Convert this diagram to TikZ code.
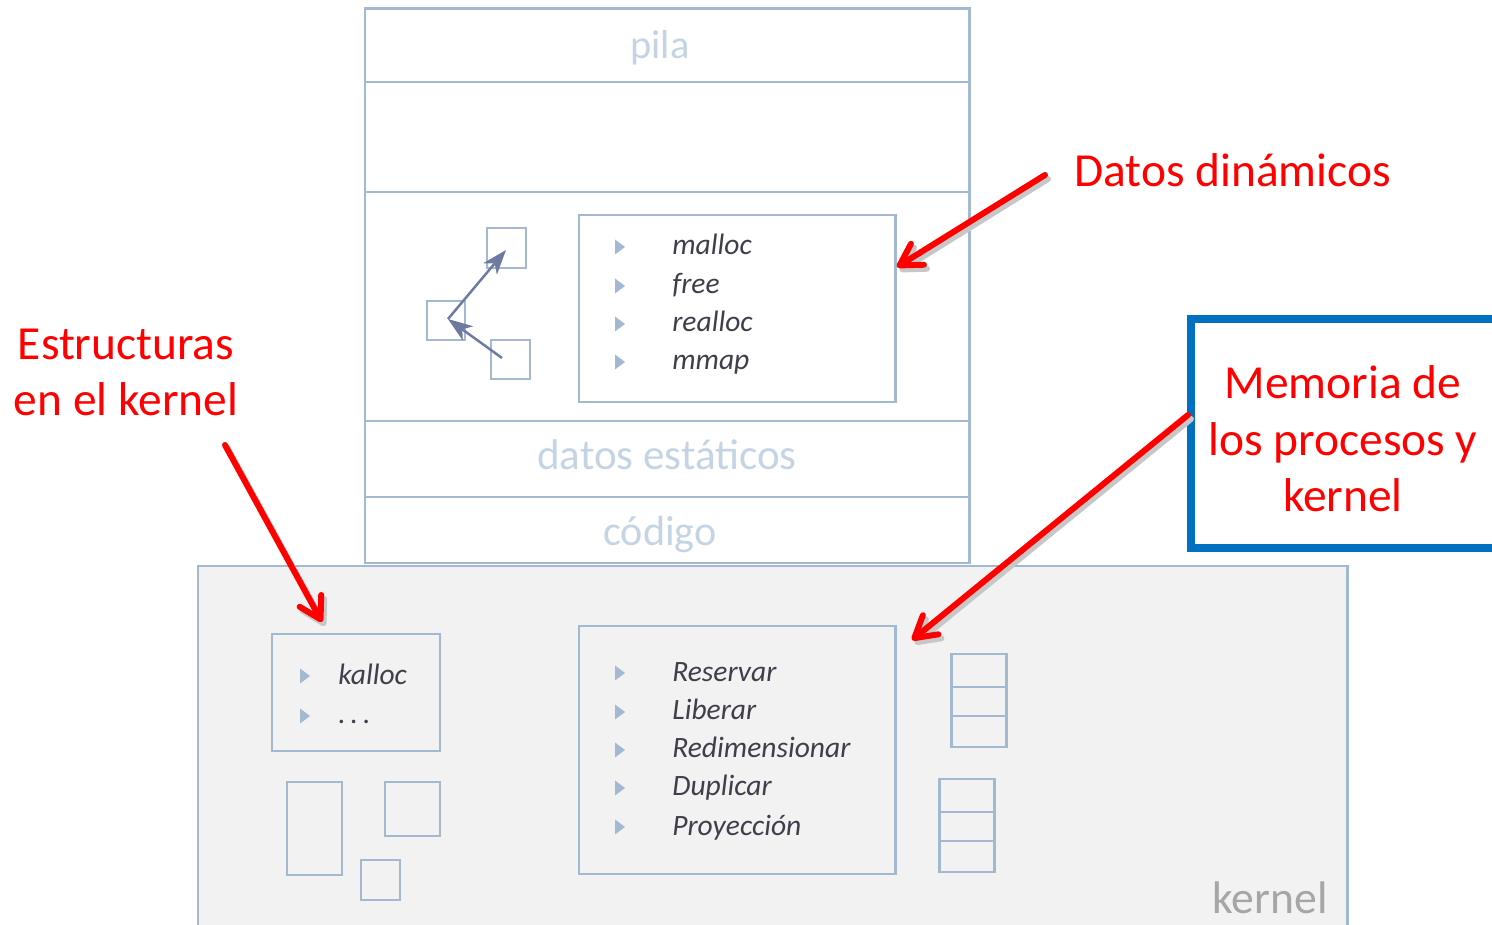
\documentclass[tikz,border=0pt]{standalone}
\usepackage{fontspec}
\setmainfont{Carlito}
\usetikzlibrary{arrows.meta,fit}
\definecolor{frame}{HTML}{A3B9D1}
\definecolor{ghost}{HTML}{C5D4E4}
\definecolor{ink}{HTML}{3F3F4C}
\definecolor{kfill}{HTML}{F2F2F2}
\definecolor{kgrey}{HTML}{A6A6A6}
\definecolor{ptr}{HTML}{6E7AA2}
\definecolor{msblue}{HTML}{0070C0}
\tikzset{
  box/.style={draw=frame, line width=1.7pt, inner sep=0pt},
  ghostlbl/.style={text=ghost, anchor=base, inner sep=0pt},
  item/.style={anchor=base west, text=ink, inner sep=0pt, font=\itshape\fontsize{16.8}{20}\selectfont},
  redlbl/.style={text=red, anchor=base, inner sep=0pt, font=\fontsize{27}{32}\selectfont},
  arrowbase/.style={line width=3.4pt, line cap=round, line join=round,
    -{Straight Barb[round, length=12pt, width=14pt]}},
  redarrow/.style={arrowbase, draw=red},
  shadowarrow/.style={arrowbase, draw=black!22},
  ptrarrow/.style={draw=ptr, line width=1.4pt, -{Stealth[length=14pt, width=10pt, inset=4pt]}},
}
\newcommand{\bul}[2]{\fill[frame] (#1-5,#2-7.5) -- (#1+5,#2) -- (#1-5,#2+7.5) -- cycle;}
\begin{document}
\begin{tikzpicture}[x=0.02cm, y=-0.02cm]
\useasboundingbox (0,0) rectangle (1492,925);
% kernel area
\node[box, fill=kfill, fit={(198,566) (1347,960)}] (kernel) {};
\node[anchor=base east, text=kgrey, inner sep=0pt, font=\fontsize{26}{30}\selectfont] (kernellbl) at (1328,913) {kernel};
% process stack
\node[box, fill=white, fit={(365,9) (969,563)}] (stack) {};
\draw[draw=frame, line width=1.7pt] (365,82) -- (969,82) (365,192) -- (969,192) (365,421) -- (969,421) (365,497) -- (969,497);
\node[ghostlbl, font=\fontsize{23}{28}\selectfont] (pila) at (660,59) {pila};
\node[ghostlbl, font=\fontsize{24.5}{30}\selectfont] (estaticos) at (667,470) {datos estáticos};
\node[ghostlbl, font=\fontsize{24}{28}\selectfont] (codigo) at (660,546) {código};
% heap pointers
\node[box, fit={(487,228) (526,268)}] (sA) {};
\node[box, fit={(427,301) (465,340)}] (sB) {};
\node[box, fit={(491,340) (530,379)}] (sC) {};
\coordinate (pC) at (502,358);
\coordinate (pB) at (448,319);
\coordinate (pA) at (506,250);
\draw[ptrarrow] (pC) -- (pB);
\draw[ptrarrow] (pB) -- (pA);
% malloc box
\node[box, fill=white, fit={(579,215) (895,402)}] (heapapi) {};
\bul{620}{247}\bul{620}{286}\bul{620}{324}\bul{620}{362}
\node[item] (malloc) at (672,255) {malloc};
\node[item] (free) at (672,294) {free};
\node[item] (realloc) at (672,332) {realloc};
\node[item] (mmap) at (672,370) {mmap};
% kalloc box
\node[box, fit={(272,634) (440,751)}] (kallocbox) {};
\bul{305}{676}\bul{305}{716}
\node[item] (kalloc) at (338,685) {kalloc};
\node[item] (kdots) at (338,724) {.\,.\,.};
\node[box, fit={(287,782) (342,875)}] (kb1) {};
\node[box, fit={(385,782) (440,836)}] (kb2) {};
\node[box, fit={(361,860) (400,900)}] (kb3) {};
% kernel memory API
\node[box, fit={(579,626) (895,874)}] (kapi) {};
\bul{620}{673}\bul{620}{712}\bul{620}{750}\bul{620}{788}\bul{620}{827}
\node[item] (res) at (672,682) {Reservar};
\node[item] (lib) at (672,720) {Liberar};
\node[item] (red) at (672,758) {Redimensionar};
\node[item] (dup) at (672,796) {Duplicar};
\node[item] (pro) at (672,835) {Proyección};
% stacked boxes
\node[box, fit={(951,654) (1006,687)}] (r1) {};
\node[box, fit={(951,687) (1006,716)}] (r2) {};
\node[box, fit={(951,716) (1006,747)}] (r3) {};
\node[box, fit={(939,779) (994,812)}] (q1) {};
\node[box, fit={(939,812) (994,841)}] (q2) {};
\node[box, fit={(939,841) (994,872)}] (q3) {};
% blue callout
\node[draw=msblue, line width=4pt, inner sep=0pt, fit={(1191,319) (1520,548)}] (callout) {};
\node[redlbl] (mem1) at (1343,399) {Memoria de};
\node[redlbl] (mem2) at (1343,456) {los procesos y};
\node[redlbl] (mem3) at (1343,512) {kernel};
% red labels
\node[redlbl, anchor=base west] (dyn) at (1074,187) {Datos dinámicos};
\node[redlbl] (est1) at (126,360) {Estructuras};
\node[redlbl] (est2) at (126,416) {en el kernel};
% red arrows
\coordinate (dynS) at (1045,175);
\coordinate (dynE) at (897,267);
\coordinate (estS) at (225,445);
\coordinate (estE) at (322,622);
\coordinate (memS) at (1188,415);
\coordinate (memE) at (912,640);
\draw[shadowarrow] ([shift={(3,4)}]dynS) -- ([shift={(3,4)}]dynE);
\draw[shadowarrow] ([shift={(3,4)}]estS) -- ([shift={(3,4)}]estE);
\draw[shadowarrow] ([shift={(3,4)}]memS) -- ([shift={(3,4)}]memE);
\draw[redarrow] (dynS) -- (dynE);
\draw[redarrow] (estS) -- (estE);
\draw[redarrow] (memS) -- (memE);
\end{tikzpicture}
\end{document}
